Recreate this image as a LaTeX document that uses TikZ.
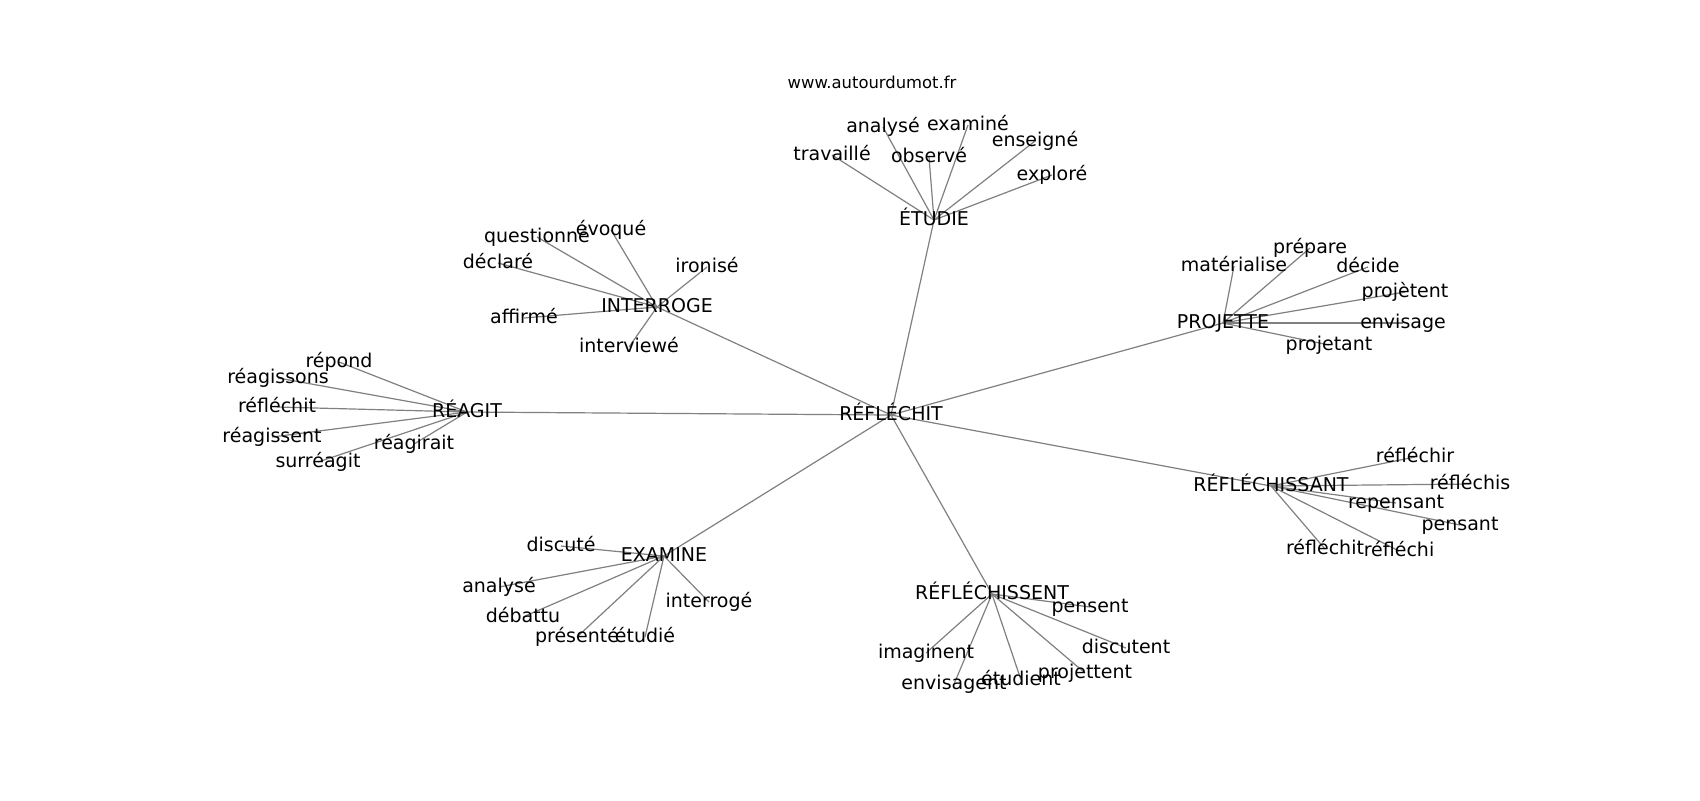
\documentclass[tikz,border=0pt]{standalone}
\usepackage{fontspec}
\setmainfont{DejaVu Sans}
\usetikzlibrary{backgrounds}
\definecolor{edgegray}{HTML}{808080}
\tikzset{
  lbl/.style={inner sep=0pt, anchor=center, text height=0.76em, text depth=0.24em, font=\fontsize{9.5pt}{11pt}\selectfont, text=black},
  wm/.style={inner sep=0pt, anchor=center, text height=0.76em, text depth=0.24em, font=\fontsize{8.2pt}{10pt}\selectfont, text=black},
  edge/.style={draw=edgegray, line width=0.6pt}
}
\begin{document}
\begin{tikzpicture}[x=0.5pt,y=-0.5pt]
\useasboundingbox (0,0) rectangle (1700,800);
\node[wm] (www) at (872,83) {www.autourdumot.fr};
% hubs
\node[lbl] (c) at (891,415) {RÉFLÉCHIT};
\node[lbl] (e) at (934,220) {ÉTUDIE};
\node[lbl] (i) at (657,307) {INTERROGE};
\node[lbl] (r) at (467,412) {RÉAGIT};
\node[lbl] (p) at (1223,323) {PROJETTE};
\node[lbl] (s) at (1271,486) {RÉFLÉCHISSANT};
\node[lbl] (x) at (664,556) {EXAMINE};
\node[lbl] (t) at (992,594) {RÉFLÉCHISSENT};
% ÉTUDIE
\node[lbl] (e1) at (832,155) {travaillé};
\node[lbl] (e2) at (883,127) {analysé};
\node[lbl] (e3) at (929,157) {observé};
\node[lbl] (e4) at (968,125) {examiné};
\node[lbl] (e5) at (1035,141) {enseigné};
\node[lbl] (e6) at (1052,175) {exploré};
% INTERROGE
\node[lbl] (i1) at (537,237) {questionné};
\node[lbl] (i2) at (611,230) {évoqué};
\node[lbl] (i3) at (498,263) {déclaré};
\node[lbl] (i4) at (707,267) {ironisé};
\node[lbl] (i5) at (524,318) {affirmé};
\node[lbl] (i6) at (629,347) {interviewé};
% RÉAGIT
\node[lbl] (r1) at (339,362) {répond};
\node[lbl] (r2) at (278,378) {réagissons};
\node[lbl] (r3) at (277,407) {réfléchit};
\node[lbl] (r4) at (272,437) {réagissent};
\node[lbl] (r5) at (414,444) {réagirait};
\node[lbl] (r6) at (318,462) {surréagit};
% PROJETTE
\node[lbl] (p1) at (1234,266) {matérialise};
\node[lbl] (p2) at (1310,248) {prépare};
\node[lbl] (p3) at (1368,267) {décide};
\node[lbl] (p4) at (1405,292) {projètent};
\node[lbl] (p5) at (1403,323) {envisage};
\node[lbl] (p6) at (1329,345) {projetant};
% RÉFLÉCHISSANT
\node[lbl] (s1) at (1415,457) {réfléchir};
\node[lbl] (s2) at (1470,484) {réfléchis};
\node[lbl] (s3) at (1396,503) {repensant};
\node[lbl] (s4) at (1460,525) {pensant};
\node[lbl] (s5) at (1325,549) {réfléchit};
\node[lbl] (s6) at (1399,551) {réfléchi};
% EXAMINE
\node[lbl] (x1) at (561,546) {discuté};
\node[lbl] (x2) at (499,587) {analysé};
\node[lbl] (x3) at (523,617) {débattu};
\node[lbl] (x4) at (577,637) {présenté};
\node[lbl] (x5) at (645,637) {étudié};
\node[lbl] (x6) at (709,602) {interrogé};
% RÉFLÉCHISSENT
\node[lbl] (t1) at (1090,607) {pensent};
\node[lbl] (t2) at (926,653) {imaginent};
\node[lbl] (t3) at (1126,648) {discutent};
\node[lbl] (t4) at (954,684) {envisagent};
\node[lbl] (t5) at (1021,680) {étudient};
\node[lbl] (t6) at (1085,673) {projettent};
\begin{scope}[on background layer]
\fill[white] (0,0) rectangle (1700,800);
\foreach \h in {e,i,r,p,s,x,t} {\draw[edge] (c.center) -- (\h.center);}
\foreach \h in {e,i,r,p,s,x,t} {
  \foreach \k in {1,...,6} {\draw[edge] (\h.center) -- (\h\k.center);}
}
\end{scope}
\end{tikzpicture}
\end{document}
